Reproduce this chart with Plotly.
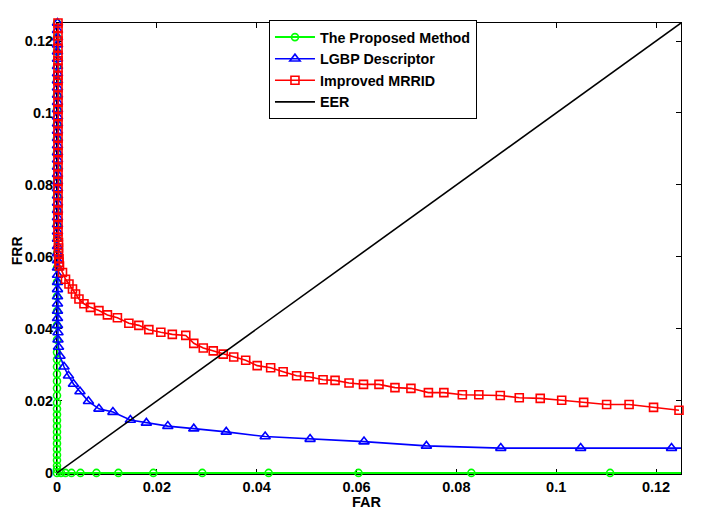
import plotly.graph_objects as go

# ---------------- data ----------------
proposed_far = [0.0, 0.0, 0.0, 0.0, 0.0, 0.0, 0.0, 0.0, 0.0, 0.0, 0.0, 0.0,
                0.0, 0.0, 0.0, 0.0, 0.0, 0.0, 0.0, 0.0, 0.0, 0.0, 0.0, 0.0,
                0.0, 0.0, 0.0, 0.0, 0.0, 0.0, 0.0, 0.0, 0.0, 0.0, 0.0, 0.0,
                0.0, 0.0, 0.0, 0.0, 0.0, 0.0, 0.0, 0.0,
                0.0008, 0.0017, 0.0029, 0.0047, 0.0079, 0.0123, 0.0193, 0.0291,
                0.0424, 0.0604, 0.0830, 0.1108, 0.1480]
proposed_frr = [0.125, 0.121, 0.117, 0.113, 0.109, 0.105, 0.101, 0.097, 0.093, 0.089,
                0.085, 0.081, 0.077, 0.073, 0.069, 0.065, 0.061, 0.057, 0.053, 0.049,
                0.045, 0.041, 0.037, 0.0335, 0.0315, 0.0295, 0.0275, 0.0255, 0.0235,
                0.0215, 0.0195, 0.0178, 0.0162, 0.0146, 0.0130, 0.0114, 0.0098, 0.0082,
                0.0066, 0.0050, 0.0035, 0.0020, 0.0010, 0.0,
                0.0, 0.0, 0.0, 0.0, 0.0, 0.0, 0.0, 0.0, 0.0, 0.0, 0.0, 0.0, 0.0]

lgbp_far = [0.0001, 0.0001, 0.0001, 0.0001, 0.0001, 0.0001, 0.0001, 0.0001, 0.0001, 0.0001,
            0.0001, 0.0001, 0.0001, 0.0001, 0.0001, 0.0001, 0.0001, 0.0001, 0.0001, 0.0001,
            0.0001, 0.0001, 0.0001, 0.0001, 0.0001, 0.0001, 0.0001, 0.0001, 0.0001, 0.0001,
            0.0001, 0.0001, 0.0001, 0.0001, 0.0001, 0.0001, 0.0001, 0.0001, 0.0001, 0.0001,
            0.0001, 0.0001, 0.0001, 0.0002, 0.0002, 0.0003,
            0.0006, 0.0014, 0.0023, 0.0033, 0.0046, 0.0063, 0.0084, 0.0112, 0.0147,
            0.0179, 0.0222, 0.0274, 0.0339, 0.0417, 0.0507, 0.0615, 0.0740, 0.0889,
            0.1049, 0.1231, 0.1400]
lgbp_frr = [0.125, 0.123, 0.121, 0.119, 0.117, 0.115, 0.113, 0.111, 0.109, 0.107,
            0.105, 0.103, 0.101, 0.099, 0.097, 0.095, 0.093, 0.091, 0.089, 0.087,
            0.085, 0.083, 0.081, 0.079, 0.077, 0.075, 0.073, 0.071, 0.069, 0.067,
            0.065, 0.063, 0.061, 0.059, 0.057, 0.055, 0.053, 0.051, 0.049, 0.047,
            0.045, 0.043, 0.041, 0.039, 0.037, 0.035,
            0.0325, 0.0295, 0.0270, 0.0247, 0.0226, 0.0199, 0.0178, 0.0169, 0.0147,
            0.0139, 0.0130, 0.0123, 0.0114, 0.0101, 0.0094, 0.0087, 0.0075, 0.0069,
            0.0069, 0.0069, 0.0069]

mrrid_far = [0.0002, 0.0002, 0.0002, 0.0002, 0.0002, 0.0002, 0.0002, 0.0002, 0.0002, 0.0002,
             0.0002, 0.0002, 0.0002, 0.0002, 0.0002, 0.0002, 0.0002, 0.0002, 0.0002, 0.0002,
             0.0002, 0.0002, 0.0002, 0.0002, 0.0002, 0.0002, 0.0002, 0.0002, 0.0002, 0.0002,
             0.0002, 0.0002, 0.0003, 0.0003, 0.0003, 0.0004, 0.0004,
             0.0005, 0.0011, 0.0017, 0.0024, 0.0031, 0.0037, 0.0044, 0.0054, 0.0067,
             0.0084, 0.0101, 0.0121, 0.0144, 0.0164, 0.0184, 0.0208, 0.0231, 0.0258,
             0.0274, 0.0293, 0.0313, 0.0333, 0.0354, 0.0378, 0.0401, 0.0428, 0.0453,
             0.0480, 0.0505, 0.0533, 0.0557, 0.0585, 0.0614, 0.0645, 0.0677, 0.0709,
             0.0744, 0.0775, 0.0812, 0.0845, 0.0888, 0.0926, 0.0968, 0.1011, 0.1055,
             0.1101, 0.1146, 0.1195, 0.1246]
mrrid_frr = [0.125, 0.1235, 0.1215, 0.120, 0.118, 0.116, 0.1145, 0.1125, 0.1105, 0.109,
             0.107, 0.105, 0.103, 0.101, 0.099, 0.097, 0.095, 0.093, 0.091, 0.089,
             0.087, 0.085, 0.083, 0.081, 0.079, 0.077, 0.075, 0.073, 0.071, 0.069,
             0.067, 0.0655, 0.064, 0.0625, 0.061, 0.0595, 0.0585,
             0.0575, 0.0557, 0.0538, 0.0525, 0.0511, 0.0497, 0.0483, 0.0470, 0.0460,
             0.0451, 0.0439, 0.0431, 0.0416, 0.0410, 0.0398, 0.0391, 0.0385, 0.0382,
             0.0360, 0.0347, 0.0339, 0.0330, 0.0322, 0.0313, 0.0298, 0.0292, 0.0281,
             0.0270, 0.0267, 0.0259, 0.0257, 0.0250, 0.0246, 0.0246, 0.0237, 0.0235,
             0.0223, 0.0223, 0.0217, 0.0217, 0.0215, 0.0209, 0.0207, 0.0202, 0.0196,
             0.0190, 0.0190, 0.0182, 0.0174]

eer_far = [0.0, 0.125]
eer_frr = [0.0, 0.125]

tick_vals = [0, 0.02, 0.04, 0.06, 0.08, 0.1, 0.12]
tick_text = ["0", "0.02", "0.04", "0.06", "0.08", "0.1", "0.12"]

series_names = ["The Proposed Method", "LGBP Descriptor", "Improved MRRID", "EER"]
x_title = "FAR"
y_title = "FRR"

# ---------------- figure ----------------
def opac(xs, limit=0.1255):
    return [1 if x <= limit else 0 for x in xs]

LW = 1.6
fig = go.Figure()
fig.add_trace(go.Scatter(
    x=proposed_far, y=proposed_frr, name=series_names[0], mode="lines+markers",
    line=dict(color="#00ff00", width=2),
    marker=dict(symbol="circle-open", size=7, color="#00ff00",
                line=dict(width=LW, color="#00ff00"), opacity=opac(proposed_far)),
    cliponaxis=False))
fig.add_trace(go.Scatter(
    x=lgbp_far, y=lgbp_frr, name=series_names[1], mode="lines+markers",
    line=dict(color="#0000ff", width=LW),
    marker=dict(symbol="triangle-up-open", size=9, color="#0000ff",
                line=dict(width=LW, color="#0000ff"), opacity=opac(lgbp_far)),
    cliponaxis=False))
fig.add_trace(go.Scatter(
    x=mrrid_far, y=mrrid_frr, name=series_names[2], mode="lines+markers",
    line=dict(color="#ff0000", width=LW),
    marker=dict(symbol="square-open", size=8, color="#ff0000",
                line=dict(width=LW, color="#ff0000")),
    cliponaxis=False))
fig.add_trace(go.Scatter(
    x=eer_far, y=eer_frr, name=series_names[3], mode="lines",
    line=dict(color="black", width=LW)))

tickfont = dict(family="Arial", size=14.5, color="black", weight="bold")
axis_common = dict(
    tickvals=tick_vals, ticktext=tick_text,
    ticks="inside", ticklen=5, tickcolor="black", tickwidth=1,
    showline=True, linecolor="black", linewidth=1, mirror="ticks",
    showgrid=False, zeroline=False, automargin=False, layer="below traces",
    tickfont=tickfont,
)

# the page body adds an 8 px offset; margins compensate so the plot frame
# lands at screen x 57..681, y 21..474
fig.update_layout(
    width=701, height=516,
    margin=dict(l=49, r=28, t=13, b=50),
    paper_bgcolor="white", plot_bgcolor="white",
    font=dict(family="Arial", color="black"),
    xaxis=dict(**axis_common, range=[0, 0.125]),
    yaxis=dict(**axis_common, range=[-0.0003, 0.125]),
    legend=dict(x=0.3397, y=1.006, xanchor="left", yanchor="top",
                bgcolor="white", bordercolor="black", borderwidth=1,
                font=dict(family="Arial", size=14.3, color="black", weight="bold"),
                tracegroupgap=0, itemwidth=40),
    showlegend=True,
    annotations=[
        dict(text=x_title, xref="paper", yref="paper", x=0.497, y=0, yshift=-28,
             xanchor="center", yanchor="middle", showarrow=False,
             font=dict(family="Arial", size=14.5, color="black", weight="bold")),
        dict(text=y_title, xref="paper", yref="paper", x=0, y=0.494, xshift=-40,
             xanchor="center", yanchor="middle", showarrow=False, textangle=-90,
             font=dict(family="Arial", size=14, color="black", weight="bold")),
    ],
)

fig.write_html("out.html")
